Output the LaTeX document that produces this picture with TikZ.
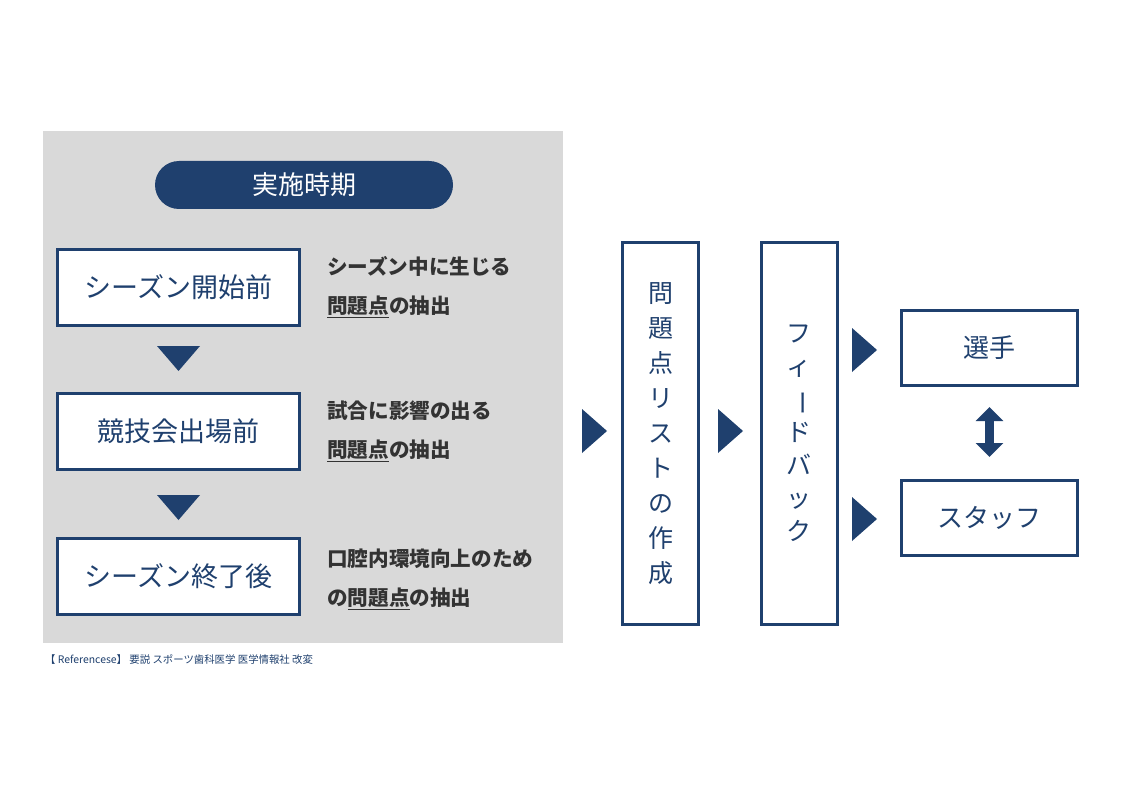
\documentclass[tikz,border=0pt]{standalone}
\usepackage{fontspec}
\setmainfont{Noto Sans CJK JP}
\usepackage{tikz}
\usetikzlibrary{arrows.meta, positioning}

\definecolor{navy}{HTML}{1F406E}
\definecolor{panelgray}{HTML}{D9D9D9}
\definecolor{notegray}{HTML}{333333}

\begin{document}
\begin{tikzpicture}[
    x=1pt, y=-1pt,
    phaseBox/.style={draw=navy, line width=3pt, fill=white, text=navy,
        minimum width=242pt, minimum height=76pt, font=\fontsize{27}{30}\selectfont},
    targetBox/.style={draw=navy, line width=3pt, fill=white, text=navy,
        minimum width=176pt, minimum height=75pt, font=\fontsize{26}{30}\selectfont},
    tallBox/.style={draw=navy, line width=3pt, fill=white, text=navy,
        minimum width=76pt, minimum height=382pt, align=center},
    sideNote/.style={anchor=west, align=left, text=notegray, inner sep=0pt,
        font=\fontsize{20.6}{39}\selectfont\bfseries},
    tri/.style={fill=navy}
]
    \useasboundingbox (0,0) rectangle (1123,794);

    % Grey panel and title pill
    \fill [panelgray] (43,131) rectangle (563,643);
    \node [fill=navy, rounded corners=24pt, minimum width=298pt, minimum height=48pt,
        text=white, font=\fontsize{26}{28}\selectfont] (title) at (304,185) {実施時期};

    % Timing boxes
    \node [phaseBox] (before) at (178.5,287.5) {シーズン開始前};
    \node [phaseBox] (contest) at (178.5,431.5) {競技会出場前};
    \node [phaseBox] (after) at (178.5,576) {シーズン終了後};

    % Notes beside the boxes
    \node [sideNote] (noteA) at (327,287) {シーズン中に生じる\\\underline{問題点}の抽出};
    \node [sideNote] (noteB) at (327,431) {試合に影響の出る\\\underline{問題点}の抽出};
    \node [sideNote] (noteC) at (327,579) {口腔内環境向上のため\\の\underline{問題点}の抽出};

    % Down triangles
    \foreach \y in {346, 495} {
        \fill [tri] (157,\y) -- (200,\y) -- (178.5,\y+25) -- cycle;
    }

    % Right triangles
    \foreach \x/\y in {582/431, 718/431, 852/350, 852/519} {
        \fill [tri] (\x,\y-22) -- (\x+25,\y) -- (\x,\y+22) -- cycle;
    }

    % Vertical boxes
    \node [tallBox, font=\fontsize{25}{35}\selectfont] (list) at (660.5,433.5)
        {問\\題\\点\\リ\\ス\\ト\\の\\作\\成};
    \node [tallBox, font=\fontsize{25}{33}\selectfont] (feedback) at (799,433.5)
        {フ\\ィ\\\rotatebox[origin=c]{-90}{ー}\\ド\\バ\\ッ\\ク};

    % Targets
    \node [targetBox] (player) at (989.5,348) {選手};
    \node [targetBox] (staff) at (989.5,518) {スタッフ};
    \draw [draw=navy, line width=9pt, shorten <=20pt, shorten >=22pt,
        {Triangle[width=27pt,length=14pt]}-{Triangle[width=27pt,length=14pt]}]
        (player.south) -- (staff.north);

    % Source
    \node [anchor=west, inner sep=0pt, text=navy, font=\fontsize{10.4}{12}\selectfont]
        (source) at (45,660) {【 Referencese】 要説 スポーツ歯科医学 医学情報社 改変};
\end{tikzpicture}
\end{document}
